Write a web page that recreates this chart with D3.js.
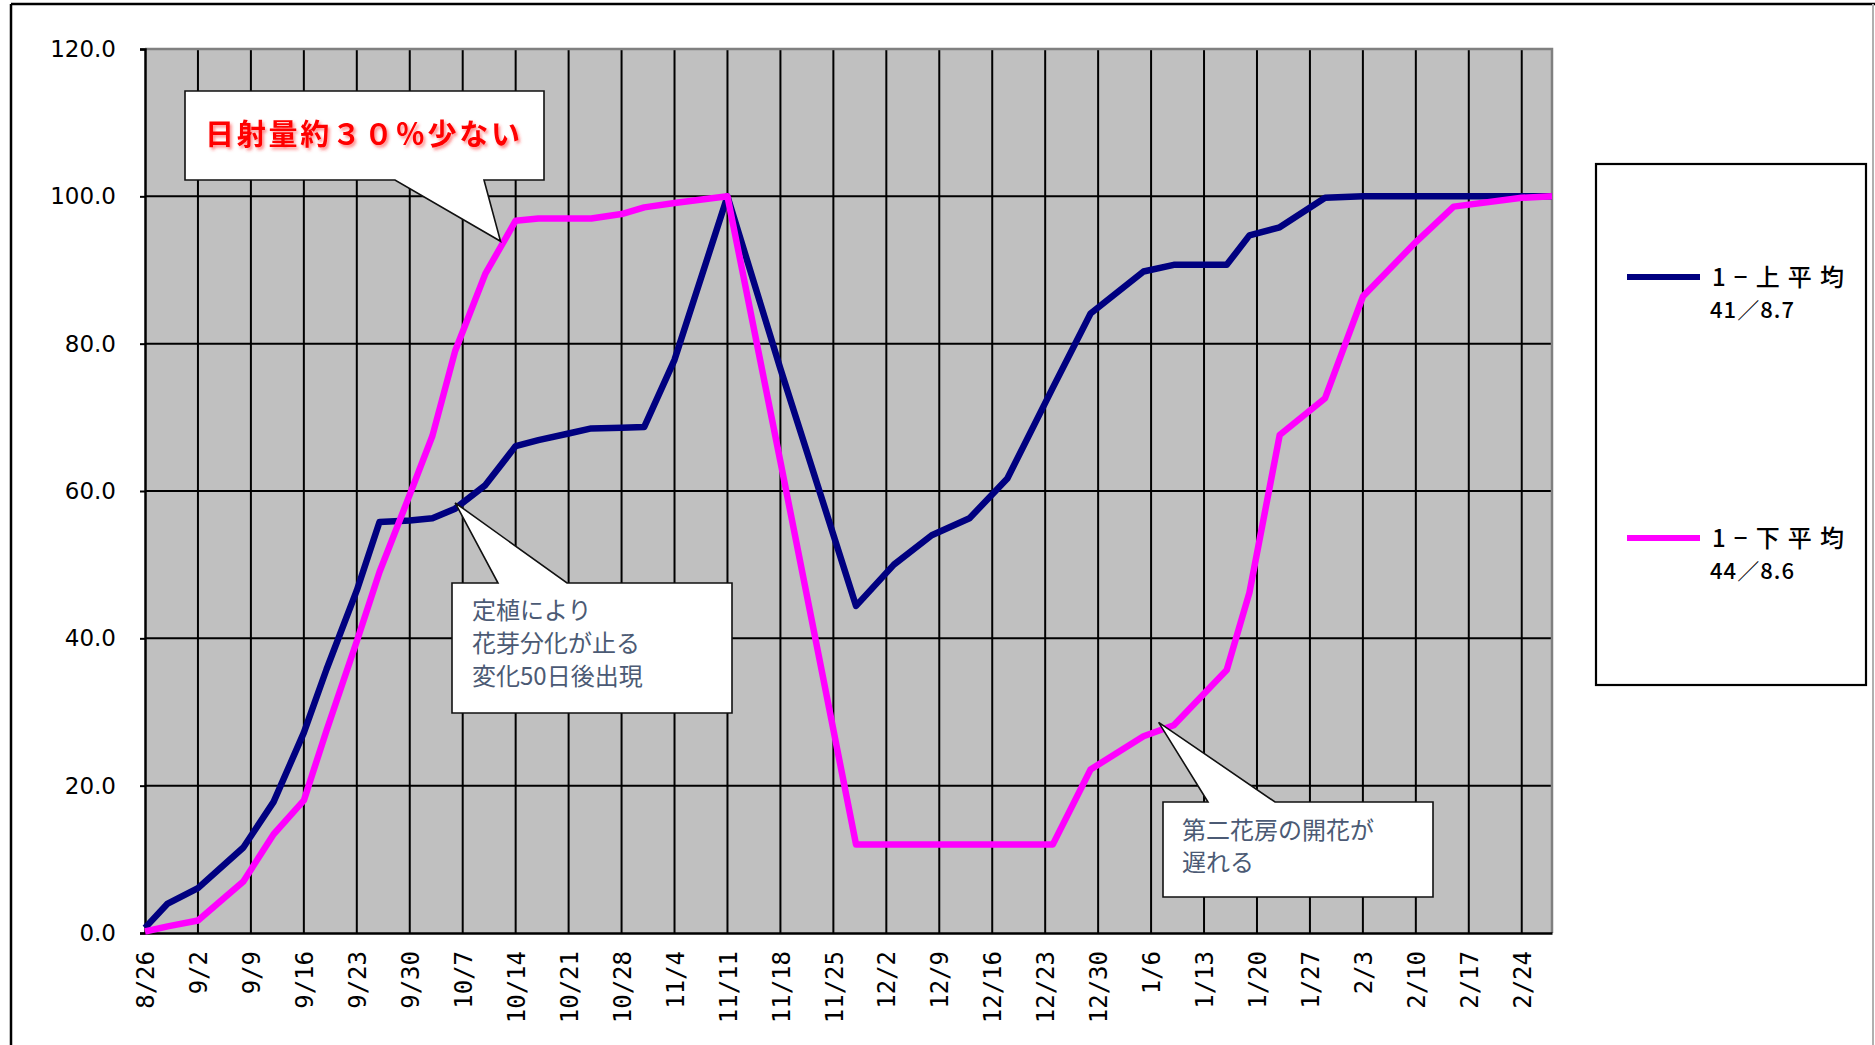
<!DOCTYPE html>
<html>
<head>
<meta charset="utf-8">
<script src="https://cdn.jsdelivr.net/npm/d3@7"></script>
<style>
  html, body { margin: 0; padding: 0; background: #ffffff; }
  svg { display: block; }
</style>
</head>
<body>
<svg id="chart" width="1875" height="1045"></svg>
<script>
// Sampling dates (Aug 2002 – Feb 2003)
const dates = [
  "8/26", "8/29", "9/2", "9/8", "9/12", "9/16", "9/19", "9/23", "9/26", "9/30",
  "10/3", "10/6", "10/10", "10/14", "10/17", "10/21", "10/24", "10/28", "10/31", "11/4",
  "11/11", "11/18", "11/28", "12/3", "12/8", "12/13", "12/18", "12/24", "12/29", "1/5",
  "1/9", "1/16", "1/19", "1/23", "1/29", "2/3", "2/10", "2/15", "2/24", "2/28"
];

// 1－上平均 (41/8.7)
const upperAvg = [
  0.7, 4.0, 6.1, 11.6, 17.8, 27.2, 35.8, 46.5, 55.8, 56.0,
  56.3, 57.6, 60.8, 66.1, 66.9, 67.8, 68.5, 68.6, 68.7, 77.8,
  100.0, 76.6, 44.4, 50.0, 54.0, 56.3, 61.7, 74.0, 84.1, 89.8,
  90.7, 90.7, 94.7, 95.8, 99.8, 100.0, 100.0, 100.0, 100.0, 100.0
];

// 1－下平均 (44/8.6)
const lowerAvg = [
  0.2, 0.9, 1.7, 7.0, 13.4, 18.0, 27.5, 39.6, 49.0, 59.5,
  67.5, 79.0, 89.5, 96.7, 97.0, 97.0, 97.0, 97.6, 98.5, 99.1,
  100.0, 64.0, 12.0, 12.0, 12.0, 12.0, 12.0, 12.0, 22.2, 26.7,
  28.2, 35.7, 46.2, 67.6, 72.6, 86.4, 93.8, 98.6, 99.8, 100.0
];

// Weekly date labels on the horizontal axis
const tickLabels = [
  "8/26", "9/2", "9/9", "9/16", "9/23", "9/30", "10/7", "10/14", "10/21", "10/28",
  "11/4", "11/11", "11/18", "11/25", "12/2", "12/9", "12/16", "12/23", "12/30", "1/6",
  "1/13", "1/20", "1/27", "2/3", "2/10", "2/17", "2/24"
];

const yTicks = [0, 20, 40, 60, 80, 100, 120];

const seriesNames = ["1−上平均", "1−下平均"];
const seriesNotes = ["41／8.7", "44／8.6"];
const seriesColors = ["#000080", "#ff00ff"];

// Callout notes: text lines and the point each one refers to (date, value)
const notes = [
  { lines: ["日射量約３０％少ない"], at: ["10/12", 93.9] },
  { lines: ["定植により", "花芽分化が止る", "変化50日後出現"], at: ["10/6", 58.4] },
  { lines: ["第二花房の開花が", "遅れる"], at: ["1/7", 28.6] }
];

// ---------------------------------------------------------------
function toDate(md) {
  const [m, d] = md.split("/").map(Number);
  return new Date(Date.UTC(m >= 8 ? 2002 : 2003, m - 1, d));
}

const svg = d3.select("#chart");
const plot = { left: 145, right: 1552, top: 49, bottom: 933 };

const x = d3.scaleUtc()
  .domain([toDate(dates[0]), toDate(dates[dates.length - 1])])
  .range([plot.left, plot.right]);

const y = d3.scaleLinear()
  .domain([0, 120])
  .range([plot.bottom, plot.top]);

const tickDates = tickLabels.map(toDate);

const defs = svg.append("defs");
defs.append("filter")
  .attr("id", "redShadow")
  .attr("x", "-10%").attr("y", "-40%")
  .attr("width", "130%").attr("height", "180%")
  .append("feDropShadow")
  .attr("dx", 2).attr("dy", 2.5)
  .attr("stdDeviation", 1.6)
  .attr("flood-color", "#ff3030")
  .attr("flood-opacity", 0.55);

// Outer frame of the chart
svg.append("line").attr("x1", 11).attr("x2", 11).attr("y1", 4).attr("y2", 1045)
  .attr("stroke", "#000").attr("stroke-width", 2.5);
svg.append("line").attr("x1", 11).attr("x2", 1875).attr("y1", 4).attr("y2", 4)
  .attr("stroke", "#000").attr("stroke-width", 2.5);
svg.append("line").attr("x1", 1873).attr("x2", 1873).attr("y1", 4).attr("y2", 1045)
  .attr("stroke", "#b0b0b0").attr("stroke-width", 2);

// Plot area background
svg.append("rect")
  .attr("x", plot.left).attr("y", plot.top)
  .attr("width", plot.right - plot.left)
  .attr("height", plot.bottom - plot.top)
  .attr("fill", "#c0c0c0");

// Horizontal gridlines
svg.append("g")
  .selectAll("line")
  .data(yTicks.filter(v => v > 0 && v < 120))
  .join("line")
  .attr("x1", plot.left).attr("x2", plot.right)
  .attr("y1", d => y(d)).attr("y2", d => y(d))
  .attr("stroke", "#000").attr("stroke-width", 2);

// Vertical gridlines, one per week
svg.append("g")
  .selectAll("line")
  .data(tickDates.slice(1))
  .join("line")
  .attr("x1", d => x(d)).attr("x2", d => x(d))
  .attr("y1", plot.top).attr("y2", plot.bottom)
  .attr("stroke", "#000").attr("stroke-width", 2);

// Top and right edges of the plot area
svg.append("path")
  .attr("d", `M${plot.left},${plot.top}H${plot.right}V${plot.bottom}`)
  .attr("fill", "none").attr("stroke", "#808080").attr("stroke-width", 2.5);

// Value axis
const yAxis = svg.append("g")
  .attr("transform", `translate(${plot.left},0)`)
  .call(d3.axisLeft(y).tickValues(yTicks).tickFormat(d3.format(".1f")).tickSize(5).tickPadding(24));
yAxis.select(".domain").attr("stroke", "#000").attr("stroke-width", 2.5);
yAxis.selectAll(".tick line").attr("stroke", "#000").attr("stroke-width", 2);
yAxis.selectAll("text")
  .attr("font-family", "'DejaVu Sans', sans-serif")
  .attr("font-size", 23)
  .attr("fill", "#000");

// Date axis
const xAxis = svg.append("g")
  .attr("transform", `translate(0,${plot.bottom})`)
  .call(d3.axisBottom(x).tickValues(tickDates).tickFormat((d, i) => tickLabels[i]).tickSize(0));
xAxis.select(".domain").attr("stroke", "#000").attr("stroke-width", 2.5);
xAxis.selectAll("text")
  .attr("font-family", "'DejaVu Sans Mono', monospace")
  .attr("font-size", 24)
  .attr("fill", "#000")
  .attr("text-anchor", "end")
  .attr("transform", "rotate(-90)")
  .attr("x", -18)
  .attr("y", 0)
  .attr("dy", "0.36em");

// Series lines
const series = [upperAvg, lowerAvg].map((vals, k) => ({
  name: seriesNames[k],
  color: seriesColors[k],
  points: dates.map((d, i) => ({ date: toDate(d), v: vals[i] }))
}));

const line = d3.line().x(d => x(d.date)).y(d => y(d.v));

svg.append("g")
  .selectAll("path")
  .data(series)
  .join("path")
  .attr("d", d => line(d.points))
  .attr("fill", "none")
  .attr("stroke", d => d.color)
  .attr("stroke-width", 6.5)
  .attr("stroke-linejoin", "round")
  .attr("stroke-linecap", "butt");

// Callout boxes with a pointer wedge
function callout(box, wedge, edge, tip) {
  const [tx, ty] = [x(toDate(tip[0])), y(tip[1])];
  const { x0, y0, x1, y1 } = box;
  let d;
  if (edge === "bottom") {
    d = `M${x0},${y0}H${x1}V${y1}H${wedge[1]}L${tx},${ty}L${wedge[0]},${y1}H${x0}Z`;
  } else {
    d = `M${x0},${y0}H${wedge[0]}L${tx},${ty}L${wedge[1]},${y0}H${x1}V${y1}H${x0}Z`;
  }
  svg.append("path")
    .attr("d", d)
    .attr("fill", "#ffffff")
    .attr("stroke", "#111")
    .attr("stroke-width", 1.6)
    .attr("stroke-linejoin", "miter");
}

callout({ x0: 185, y0: 91, x1: 544, y1: 180 }, [395, 484], "bottom", notes[0].at);
callout({ x0: 452, y0: 583, x1: 732, y1: 713 }, [498, 567], "top", notes[1].at);
callout({ x0: 1163, y0: 802, x1: 1433, y1: 897 }, [1208, 1275], "top", notes[2].at);

svg.append("text")
  .attr("x", 205).attr("y", 135)
  .attr("dy", "0.36em")
  .attr("font-family", "'Noto Sans CJK JP', sans-serif")
  .attr("font-weight", 700)
  .attr("font-size", 29)
  .attr("fill", "#ff0000")
  .attr("textLength", 315)
  .attr("lengthAdjust", "spacing")
  .attr("filter", "url(#redShadow)")
  .text(notes[0].lines[0]);

const noteColor = "#4b5a74";
notes[1].lines.forEach((t, i) => {
  svg.append("text")
    .attr("x", 472).attr("y", 610 + i * 33)
    .attr("dy", "0.36em")
    .attr("font-family", "'Noto Sans CJK JP', sans-serif")
    .attr("font-size", 24)
    .attr("fill", noteColor)
    .text(t);
});
notes[2].lines.forEach((t, i) => {
  svg.append("text")
    .attr("x", 1182).attr("y", 830 + i * 32)
    .attr("dy", "0.36em")
    .attr("font-family", "'Noto Sans CJK JP', sans-serif")
    .attr("font-size", 24)
    .attr("fill", noteColor)
    .text(t);
});

// Legend
svg.append("rect")
  .attr("x", 1596).attr("y", 164)
  .attr("width", 270).attr("height", 521)
  .attr("fill", "#ffffff")
  .attr("stroke", "#000")
  .attr("stroke-width", 2.2);

const legendRows = [277, 538];
series.forEach((s, k) => {
  const ly = legendRows[k];
  svg.append("line")
    .attr("x1", 1627).attr("x2", 1700)
    .attr("y1", ly).attr("y2", ly)
    .attr("stroke", s.color).attr("stroke-width", 6);
  svg.append("text")
    .attr("x", 1712).attr("y", ly)
    .attr("dy", "0.36em")
    .attr("font-family", "'Noto Sans CJK JP', sans-serif")
    .attr("font-size", 24)
    .attr("font-weight", 500)
    .attr("fill", "#000")
    .attr("textLength", 132)
    .attr("lengthAdjust", "spacing")
    .text(s.name);
  svg.append("text")
    .attr("x", 1710).attr("y", ly + 33)
    .attr("dy", "0.36em")
    .attr("font-family", "'Noto Sans CJK JP', sans-serif")
    .attr("font-size", 22)
    .attr("font-weight", 500)
    .attr("fill", "#000")
    .attr("textLength", 84)
    .attr("lengthAdjust", "spacing")
    .text(seriesNotes[k]);
});
</script>
</body>
</html>
